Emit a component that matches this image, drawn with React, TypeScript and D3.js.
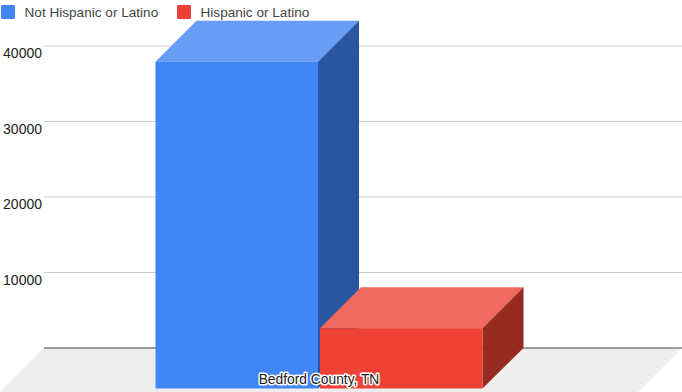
import * as React from 'react'
import * as d3 from 'd3'

const categories = ['Bedford County, TN']
const seriesNames = ['Not Hispanic or Latino', 'Hispanic or Latino']
const seriesValues = [43350, 8050]
const yTicks = [10000, 20000, 30000, 40000]

const frontColors = ['#4285f4', '#ec4134']
const topColors = ['#689df6', '#ef6a5e']
const sideColors = ['#2a56a0', '#982b21']

const width = 682
const height = 392
const depth = 41
const font = 'Arial, "Liberation Sans", sans-serif'

export default function App() {
  // back wall of the 3d box
  const y = d3.scaleLinear().domain([0, 40000]).range([348, 46])
  const x = d3.scaleBand<string>().domain(seriesNames).range([155.5, 482.5]).paddingInner(0.012)
  const pts = (p: number[][]) => p.map(d => d.join(',')).join(' ')

  const left = 44
  const right = width
  const floorY = y(0)

  return (
    <svg
      width={width}
      height={height}
      style={{ position: 'absolute', left: 0, top: 0, fontFamily: font, background: '#fff' }}
    >
      <polygon
        points={pts([[left, floorY], [right, floorY], [right - 44, floorY + 44], [left - 44, floorY + 44]])}
        fill="#eeeeee"
      />
      {yTicks.map(t => (
        <g key={t}>
          <line x1={left} x2={right} y1={y(t)} y2={y(t)} stroke="#cccccc" strokeWidth={1} />
          <text x={42} y={y(t) + 12} textAnchor="end" fontSize={14} fill="#222">{t}</text>
        </g>
      ))}
      <line x1={left} x2={right} y1={floorY} y2={floorY} stroke="#444444" strokeWidth={1.2} />

      {seriesNames.map((name, i) => {
        const x0 = x(name) as number
        const x1 = x0 + x.bandwidth()
        const top = y(seriesValues[i])
        // front face sits one depth step down and to the left of the wall
        const fTop = top + depth
        const fBottom = floorY + depth - 0.5
        return (
          <g key={name}>
            <polygon points={pts([[x0, fTop], [x1, fTop], [x1 + depth, top], [x0 + depth, top]])} fill={topColors[i]} />
            <polygon points={pts([[x1, fTop], [x1 + depth, top], [x1 + depth, floorY], [x1, fBottom]])} fill={sideColors[i]} />
            <rect x={x0} y={fTop} width={x.bandwidth()} height={fBottom - fTop} fill={frontColors[i]} />
          </g>
        )
      })}

      <text
        x={319}
        y={384}
        textAnchor="middle"
        fontSize={13.8}
        fill="#222"
        stroke="#fff"
        strokeWidth={3}
        strokeLinejoin="round"
        paintOrder="stroke"
      >
        {categories[0]}
      </text>

      {seriesNames.map((name, i) => {
        const lx = i === 0 ? 1 : 177
        return (
          <g key={name}>
            <rect x={lx} y={5} width={14} height={14} rx={1} fill={frontColors[i]} />
            <text x={lx + 23.5} y={17} fontSize={13.6} fill="#444">{name}</text>
          </g>
        )
      })}
    </svg>
  )
}
